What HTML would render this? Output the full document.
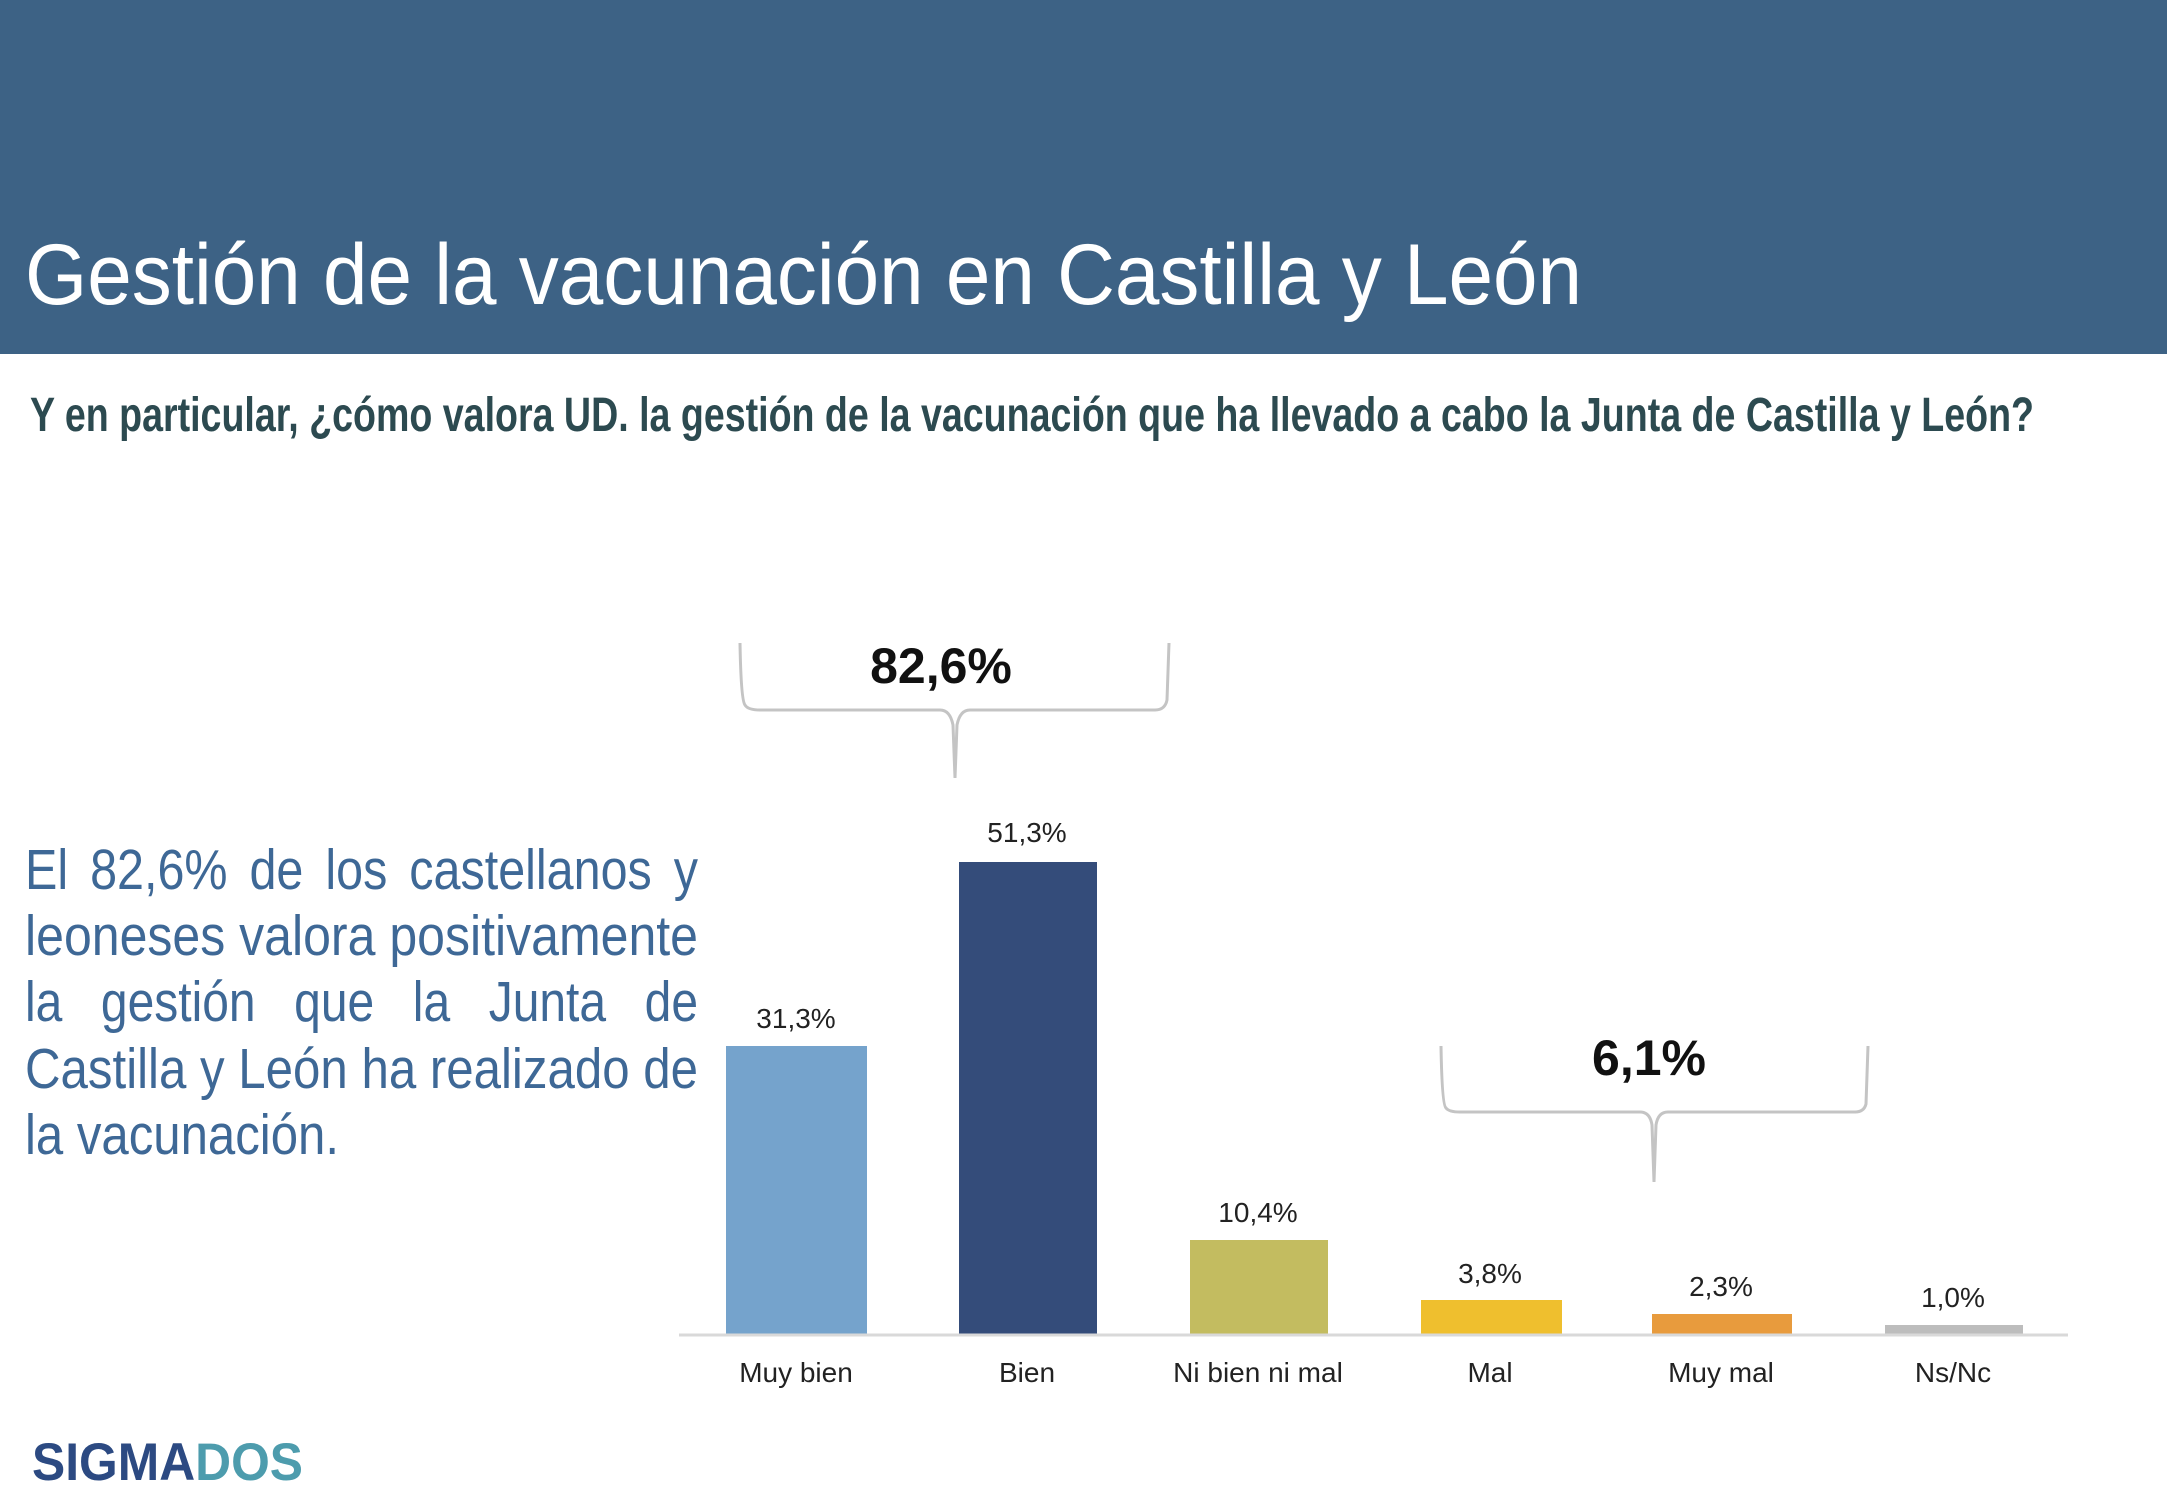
<!DOCTYPE html>
<html><head><meta charset="utf-8"><style>html,body{margin:0;padding:0;background:#fff}svg{display:block}</style></head>
<body>
<svg width="2167" height="1500" viewBox="0 0 2167 1500" xmlns="http://www.w3.org/2000/svg" font-family="Liberation Sans, sans-serif">
<rect x="0" y="0" width="2167" height="354" fill="#3d6285"/>
<text x="25" y="304" font-size="86" fill="#fff" textLength="1557" lengthAdjust="spacingAndGlyphs">Gestión de la vacunación en Castilla y León</text>
<text x="30" y="431" font-size="48" font-weight="bold" fill="#2c4a50" textLength="2004" lengthAdjust="spacingAndGlyphs">Y en particular, ¿cómo valora UD. la gestión de la vacunación que ha llevado a cabo la Junta de Castilla y León?</text>
<g font-size="57" fill="#3e6896">
<text x="25" y="889" textLength="673" lengthAdjust="spacingAndGlyphs" word-spacing="10">El 82,6% de los castellanos y</text>
<text x="25" y="955" textLength="673" lengthAdjust="spacingAndGlyphs">leoneses valora positivamente</text>
<text x="25" y="1021" textLength="673" lengthAdjust="spacingAndGlyphs" word-spacing="30">la gestión que la Junta de</text>
<text x="25" y="1088" textLength="673" lengthAdjust="spacingAndGlyphs">Castilla y León ha realizado de</text>
<text x="25" y="1154" textLength="314" lengthAdjust="spacingAndGlyphs">la vacunación.</text>
</g>
<rect x="726" y="1046" width="141" height="288" fill="#75a3cc"/>
<rect x="959" y="862" width="138" height="472" fill="#344c7a"/>
<rect x="1190" y="1240" width="138" height="94" fill="#c3bc60"/>
<rect x="1421" y="1300" width="141" height="34" fill="#efbf2e"/>
<rect x="1652" y="1314" width="140" height="20" fill="#e89b3d"/>
<rect x="1885" y="1325" width="138" height="9" fill="#bdbdbd"/>
<line x1="679" y1="1335" x2="2068" y2="1335" stroke="#d9d9d9" stroke-width="3"/>
<g font-size="28" fill="#222" text-anchor="middle">
<text x="796" y="1028">31,3%</text><text x="1027" y="842">51,3%</text><text x="1258" y="1222">10,4%</text>
<text x="1490" y="1283">3,8%</text><text x="1721" y="1296">2,3%</text><text x="1953" y="1307">1,0%</text>
<text x="796" y="1382">Muy bien</text><text x="1027" y="1382">Bien</text><text x="1258" y="1382">Ni bien ni mal</text>
<text x="1490" y="1382">Mal</text><text x="1721" y="1382">Muy mal</text><text x="1953" y="1382">Ns/Nc</text>
</g>
<g fill="none" stroke="#c4c4c4" stroke-width="3">
<path d="M740 643 Q741 700 745 705 Q748 710 760 710 L940 710 Q950 710 953 725 L955 778 M955 778 L957 725 Q960 710 970 710 L1155 710 Q1165 710 1167 700 L1169 643"/>
<path d="M1441 1046 Q1442 1105 1446 1108 Q1449 1112 1460 1112 L1640 1112 Q1650 1112 1652 1125 L1654 1182 M1654 1182 L1656 1125 Q1658 1112 1668 1112 L1855 1112 Q1864 1112 1866 1104 L1868 1046"/>
</g>
<text x="941" y="683" font-size="50" font-weight="bold" fill="#111" text-anchor="middle">82,6%</text>
<text x="1649" y="1075" font-size="50" font-weight="bold" fill="#111" text-anchor="middle">6,1%</text>
<text x="32" y="1480" font-size="53" font-weight="bold" textLength="271" lengthAdjust="spacingAndGlyphs"><tspan fill="#2c4a82">SIGMA</tspan><tspan fill="#4d9cad">DOS</tspan></text>
</svg>
</body></html>
